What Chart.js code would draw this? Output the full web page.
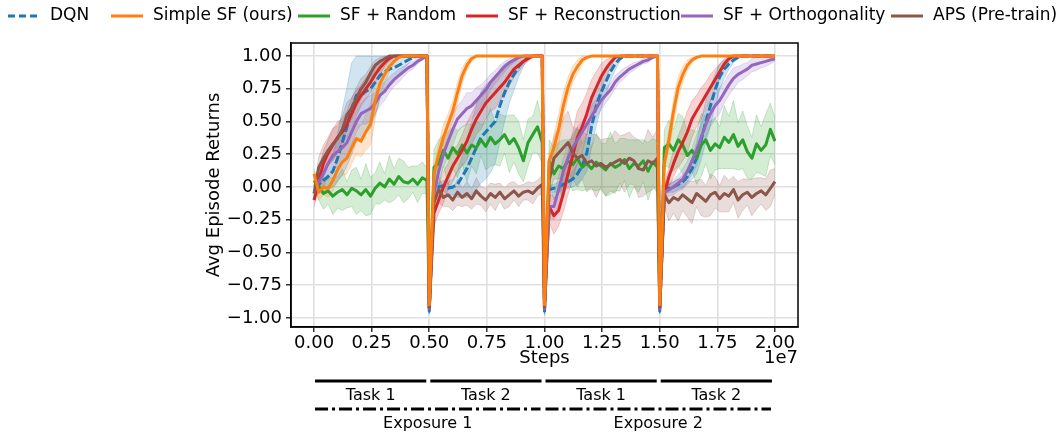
<!DOCTYPE html>
<html>
<head>
<meta charset="utf-8">
<script src="https://cdn.jsdelivr.net/npm/chart.js@4.4.0/dist/chart.umd.min.js"></script>
<style>
  html, body { margin: 0; padding: 0; background: #fff; }
  #wrap { position: relative; width: 1063px; height: 439px; }
</style>
</head>
<body>
<div id="wrap"><canvas id="returns" width="1063" height="439"></canvas></div>
<script>
const FONT = "'DejaVu Sans', sans-serif";

// four phases of 5e6 env steps; 25 evals per phase (last phase also logs the final step)
const phaseEdges = [0, 5e6, 1e7, 1.5e7, 2e7];
const steps = [];
for (let p = 0; p < 4; p++) {
  const n = p < 3 ? 25 : 26;
  const span = p < 3 ? 4.9e6 : 5e6;
  for (let k = 0; k < n; k++) steps.push(phaseEdges[p] + k * span / (p < 3 ? 24 : 25));
}
const xTicks = [0, 2.5e6, 5e6, 7.5e6, 1e7, 1.25e7, 1.5e7, 1.75e7, 2e7];
const yTicks = [-1, -0.75, -0.5, -0.25, 0, 0.25, 0.5, 0.75, 1];
const taskLabels = ['Task 1', 'Task 2', 'Task 1', 'Task 2'];
const exposureLabels = ['Exposure 1', 'Exposure 2'];

// mean returns (one row per phase)
const dqnMean = [
  0.00, 0.02, 0.05, 0.08, 0.12, 0.22, 0.34, 0.46, 0.60, 0.70, 0.70, 0.73, 0.75, 0.80, 0.85, 0.88, 0.90, 0.91, 0.93, 0.95, 0.97, 0.99, 1.00, 1.00, 1.00,
  -0.95, 0.00, 0.00, 0.01, -0.01, 0.00, 0.02, 0.08, 0.14, 0.22, 0.30, 0.38, 0.42, 0.46, 0.50, 0.62, 0.72, 0.80, 0.86, 0.92, 0.96, 0.99, 1.00, 1.00, 1.00,
  -0.96, -0.02, -0.01, 0.00, 0.02, 0.04, 0.06, 0.10, 0.16, 0.26, 0.46, 0.62, 0.72, 0.80, 0.88, 0.94, 0.98, 1.00, 1.00, 1.00, 1.00, 1.00, 1.00, 1.00, 1.00,
  -0.95, -0.02, -0.01, 0.00, 0.02, 0.04, 0.08, 0.14, 0.22, 0.36, 0.50, 0.62, 0.74, 0.84, 0.90, 0.94, 0.97, 0.99, 1.00, 1.00, 1.00, 1.00, 1.00, 1.00, 1.00, 1.00
];
const sfMean = [
  0.10, -0.04, 0.00, -0.01, 0.05, 0.13, 0.19, 0.22, 0.30, 0.37, 0.35, 0.42, 0.48, 0.66, 0.79, 0.86, 0.92, 0.96, 0.99, 1.00, 1.00, 1.00, 1.00, 1.00, 1.00,
  -0.90, 0.10, 0.25, 0.38, 0.48, 0.58, 0.72, 0.85, 0.93, 0.98, 1.00, 1.00, 1.00, 1.00, 1.00, 1.00, 1.00, 1.00, 1.00, 1.00, 1.00, 1.00, 1.00, 1.00, 1.00,
  -0.90, 0.20, 0.30, 0.44, 0.62, 0.76, 0.86, 0.92, 0.97, 0.99, 1.00, 1.00, 1.00, 1.00, 1.00, 1.00, 1.00, 1.00, 1.00, 1.00, 1.00, 1.00, 1.00, 1.00, 1.00,
  -0.90, 0.18, 0.36, 0.58, 0.76, 0.86, 0.93, 0.97, 0.99, 1.00, 1.00, 1.00, 1.00, 1.00, 1.00, 1.00, 1.00, 1.00, 1.00, 1.00, 1.00, 1.00, 1.00, 1.00, 1.00, 1.00
];
const randMean = [
  0.05, 0.00, -0.05, -0.03, -0.07, -0.04, -0.02, -0.06, -0.01, -0.03, -0.06, -0.02, -0.07, -0.01, 0.03, 0.00, 0.06, 0.02, 0.08, 0.04, 0.03, 0.06, 0.02, 0.07, 0.05,
  -0.92, 0.15, 0.18, 0.28, 0.22, 0.30, 0.25, 0.32, 0.26, 0.32, 0.30, 0.36, 0.31, 0.38, 0.33, 0.36, 0.40, 0.33, 0.37, 0.30, 0.20, 0.34, 0.40, 0.46, 0.34,
  -0.92, 0.20, 0.10, 0.16, 0.14, 0.20, 0.17, 0.22, 0.15, 0.18, 0.14, 0.19, 0.16, 0.13, 0.18, 0.15, 0.17, 0.21, 0.14, 0.18, 0.16, 0.20, 0.12, 0.19, 0.15,
  -0.92, 0.30, 0.33, 0.28, 0.36, 0.32, 0.24, 0.28, 0.22, 0.32, 0.36, 0.28, 0.33, 0.30, 0.38, 0.34, 0.40, 0.31, 0.36, 0.27, 0.22, 0.33, 0.28, 0.32, 0.44, 0.35
];
const reconMean = [
  -0.10, 0.05, 0.18, 0.26, 0.32, 0.38, 0.42, 0.48, 0.56, 0.64, 0.70, 0.75, 0.80, 0.86, 0.91, 0.95, 0.98, 1.00, 1.00, 1.00, 1.00, 1.00, 1.00, 1.00, 1.00,
  -0.93, -0.20, -0.10, 0.00, 0.08, 0.16, 0.22, 0.28, 0.35, 0.44, 0.52, 0.58, 0.64, 0.68, 0.72, 0.76, 0.80, 0.85, 0.90, 0.93, 0.96, 0.98, 1.00, 1.00, 1.00,
  -0.93, -0.15, -0.22, -0.18, -0.05, 0.10, 0.24, 0.38, 0.46, 0.56, 0.68, 0.76, 0.84, 0.90, 0.95, 0.99, 1.00, 1.00, 1.00, 1.00, 1.00, 1.00, 1.00, 1.00, 1.00,
  -0.93, -0.05, 0.08, 0.18, 0.27, 0.34, 0.42, 0.52, 0.58, 0.64, 0.70, 0.76, 0.82, 0.88, 0.94, 0.98, 1.00, 1.00, 1.00, 1.00, 1.00, 1.00, 1.00, 1.00, 1.00, 1.00
];
const orthoMean = [
  -0.05, 0.04, 0.10, 0.18, 0.24, 0.27, 0.30, 0.34, 0.42, 0.50, 0.56, 0.58, 0.60, 0.64, 0.70, 0.73, 0.78, 0.82, 0.85, 0.88, 0.91, 0.93, 0.96, 0.98, 1.00,
  -0.93, -0.05, 0.12, 0.25, 0.35, 0.44, 0.52, 0.56, 0.60, 0.62, 0.66, 0.70, 0.74, 0.80, 0.84, 0.88, 0.92, 0.95, 0.97, 0.99, 1.00, 1.00, 1.00, 1.00, 1.00,
  -0.93, -0.15, -0.15, -0.02, 0.12, 0.22, 0.30, 0.36, 0.42, 0.48, 0.54, 0.60, 0.66, 0.70, 0.74, 0.80, 0.84, 0.87, 0.90, 0.92, 0.94, 0.96, 0.97, 0.99, 1.00,
  -0.93, -0.04, -0.02, 0.00, 0.03, 0.06, 0.12, 0.20, 0.28, 0.38, 0.48, 0.56, 0.62, 0.66, 0.72, 0.78, 0.83, 0.86, 0.88, 0.90, 0.93, 0.94, 0.95, 0.96, 0.97, 0.98
];
const apsMean = [
  -0.05, 0.15, 0.22, 0.28, 0.33, 0.37, 0.44, 0.55, 0.60, 0.68, 0.75, 0.80, 0.87, 0.93, 0.96, 0.98, 1.00, 1.00, 1.00, 1.00, 1.00, 1.00, 1.00, 1.00, 1.00,
  -0.92, -0.12, -0.02, -0.08, -0.06, -0.10, -0.04, -0.08, -0.05, -0.09, -0.03, -0.07, -0.10, -0.05, -0.08, -0.04, -0.09, -0.06, -0.03, -0.07, -0.04, -0.03, -0.05, -0.01, 0.02,
  -0.92, 0.05, 0.22, 0.26, 0.30, 0.34, 0.26, 0.22, 0.24, 0.18, 0.20, 0.16, 0.18, 0.15, 0.17, 0.19, 0.21, 0.18, 0.22, 0.20, 0.14, 0.13, 0.20, 0.18, 0.22,
  -0.92, -0.06, -0.12, -0.08, -0.10, -0.06, -0.09, -0.12, -0.05, -0.08, -0.11, -0.06, -0.04, -0.09, -0.05, -0.07, -0.02, -0.10, -0.06, -0.04, -0.08, -0.05, -0.03, -0.06, -0.01, 0.04
];

// std across seeds, same layout
const dqnSpread = [
  0.02, 0.05, 0.08, 0.10, 0.12, 0.18, 0.25, 0.30, 0.35, 0.35, 0.33, 0.32, 0.30, 0.25, 0.18, 0.12, 0.10, 0.09, 0.07, 0.05, 0.03, 0.01, 0, 0, 0,
  0.02, 0.03, 0.03, 0.04, 0.05, 0.06, 0.10, 0.16, 0.22, 0.28, 0.32, 0.35, 0.36, 0.35, 0.32, 0.28, 0.22, 0.16, 0.12, 0.08, 0.04, 0.01, 0, 0, 0,
  0.02, 0.03, 0.03, 0.04, 0.04, 0.05, 0.06, 0.08, 0.10, 0.14, 0.16, 0.15, 0.12, 0.10, 0.07, 0.05, 0.02, 0, 0, 0, 0, 0, 0, 0, 0,
  0.02, 0.03, 0.03, 0.04, 0.04, 0.05, 0.06, 0.08, 0.12, 0.15, 0.16, 0.15, 0.12, 0.10, 0.07, 0.04, 0.02, 0.01, 0, 0, 0, 0, 0, 0, 0, 0
];
const sfSpread = [
  0.04, 0.06, 0.06, 0.07, 0.08, 0.08, 0.10, 0.12, 0.12, 0.12, 0.12, 0.14, 0.16, 0.14, 0.10, 0.07, 0.04, 0.02, 0.01, 0, 0, 0, 0, 0, 0,
  0.02, 0.06, 0.08, 0.10, 0.08, 0.08, 0.08, 0.06, 0.04, 0.02, 0, 0, 0, 0, 0, 0, 0, 0, 0, 0, 0, 0, 0, 0, 0,
  0.02, 0.06, 0.10, 0.12, 0.10, 0.08, 0.06, 0.05, 0.03, 0.01, 0, 0, 0, 0, 0, 0, 0, 0, 0, 0, 0, 0, 0, 0, 0,
  0.02, 0.06, 0.08, 0.10, 0.08, 0.06, 0.04, 0.02, 0.01, 0, 0, 0, 0, 0, 0, 0, 0, 0, 0, 0, 0, 0, 0, 0, 0, 0
];
const randSpread = [
  0.06, 0.10, 0.12, 0.10, 0.14, 0.12, 0.16, 0.10, 0.14, 0.18, 0.12, 0.20, 0.14, 0.12, 0.16, 0.10, 0.18, 0.12, 0.14, 0.16, 0.12, 0.10, 0.14, 0.12, 0.10,
  0.05, 0.14, 0.18, 0.12, 0.20, 0.16, 0.18, 0.14, 0.22, 0.16, 0.20, 0.12, 0.18, 0.22, 0.16, 0.20, 0.14, 0.22, 0.18, 0.20, 0.16, 0.18, 0.14, 0.20, 0.16,
  0.05, 0.16, 0.20, 0.18, 0.22, 0.16, 0.20, 0.24, 0.18, 0.20, 0.16, 0.22, 0.18, 0.20, 0.24, 0.18, 0.20, 0.16, 0.22, 0.18, 0.20, 0.16, 0.22, 0.18, 0.20,
  0.05, 0.14, 0.18, 0.16, 0.20, 0.22, 0.18, 0.16, 0.20, 0.24, 0.18, 0.22, 0.20, 0.16, 0.24, 0.20, 0.26, 0.18, 0.22, 0.20, 0.16, 0.22, 0.18, 0.24, 0.20, 0.18
];
const reconSpread = [
  0.05, 0.08, 0.10, 0.10, 0.12, 0.12, 0.10, 0.10, 0.12, 0.10, 0.08, 0.08, 0.08, 0.06, 0.05, 0.03, 0.02, 0, 0, 0, 0, 0, 0, 0, 0,
  0.03, 0.10, 0.10, 0.12, 0.10, 0.12, 0.10, 0.12, 0.14, 0.12, 0.12, 0.14, 0.12, 0.10, 0.12, 0.10, 0.10, 0.08, 0.06, 0.05, 0.03, 0.02, 0, 0, 0,
  0.03, 0.12, 0.14, 0.12, 0.14, 0.16, 0.18, 0.20, 0.18, 0.16, 0.14, 0.12, 0.10, 0.07, 0.04, 0.01, 0, 0, 0, 0, 0, 0, 0, 0, 0,
  0.03, 0.06, 0.08, 0.10, 0.12, 0.14, 0.16, 0.14, 0.12, 0.12, 0.10, 0.10, 0.08, 0.06, 0.04, 0.02, 0, 0, 0, 0, 0, 0, 0, 0, 0, 0
];
const orthoSpread = [
  0.05, 0.08, 0.10, 0.10, 0.10, 0.12, 0.12, 0.10, 0.10, 0.08, 0.08, 0.10, 0.10, 0.08, 0.08, 0.07, 0.06, 0.05, 0.05, 0.04, 0.03, 0.03, 0.02, 0.01, 0,
  0.03, 0.08, 0.10, 0.10, 0.12, 0.12, 0.10, 0.10, 0.12, 0.10, 0.10, 0.08, 0.08, 0.06, 0.05, 0.05, 0.04, 0.03, 0.02, 0.01, 0, 0, 0, 0, 0,
  0.03, 0.08, 0.10, 0.10, 0.10, 0.12, 0.10, 0.10, 0.08, 0.08, 0.08, 0.07, 0.07, 0.06, 0.05, 0.05, 0.04, 0.04, 0.03, 0.03, 0.02, 0.02, 0.02, 0.01, 0,
  0.03, 0.04, 0.05, 0.06, 0.06, 0.08, 0.08, 0.10, 0.12, 0.10, 0.10, 0.10, 0.10, 0.10, 0.08, 0.08, 0.08, 0.06, 0.06, 0.05, 0.05, 0.05, 0.04, 0.04, 0.03, 0.02
];
const apsSpread = [
  0.04, 0.08, 0.10, 0.10, 0.12, 0.10, 0.10, 0.10, 0.08, 0.08, 0.08, 0.06, 0.05, 0.04, 0.03, 0.02, 0, 0, 0, 0, 0, 0, 0, 0, 0,
  0.03, 0.08, 0.10, 0.07, 0.09, 0.08, 0.10, 0.07, 0.09, 0.08, 0.10, 0.07, 0.09, 0.08, 0.10, 0.07, 0.08, 0.09, 0.07, 0.08, 0.06, 0.07, 0.08, 0.06, 0.07,
  0.03, 0.10, 0.16, 0.20, 0.22, 0.24, 0.20, 0.22, 0.18, 0.22, 0.20, 0.24, 0.18, 0.22, 0.20, 0.24, 0.18, 0.22, 0.20, 0.18, 0.22, 0.20, 0.24, 0.20, 0.22,
  0.03, 0.10, 0.14, 0.12, 0.16, 0.12, 0.14, 0.16, 0.10, 0.14, 0.12, 0.16, 0.12, 0.10, 0.14, 0.12, 0.10, 0.14, 0.12, 0.10, 0.14, 0.12, 0.10, 0.12, 0.14, 0.10
];

// lower order = drawn on top
const runs = [
  { label: 'DQN', color: '#1f77b4', mean: dqnMean, spread: dqnSpread, dash: [8, 3], order: 5 },
  { label: 'Simple SF (ours)', color: '#ff7f0e', mean: sfMean, spread: sfSpread, order: 0 },
  { label: 'SF + Random', color: '#2ca02c', mean: randMean, spread: randSpread, order: 4 },
  { label: 'SF + Reconstruction', color: '#d62728', mean: reconMean, spread: reconSpread, order: 3 },
  { label: 'SF + Orthogonality', color: '#9467bd', mean: orthoMean, spread: orthoSpread, order: 2 },
  { label: 'APS (Pre-train)', color: '#8c564b', mean: apsMean, spread: apsSpread, order: 1 }
];

function rgba(hex, a) {
  const n = parseInt(hex.slice(1), 16);
  return `rgba(${n >> 16}, ${(n >> 8) & 255}, ${n & 255}, ${a})`;
}

const datasets = [];
runs.forEach(r => {
  datasets.push({
    label: r.label,
    data: steps.map((x, i) => ({ x, y: r.mean[i] })),
    borderColor: r.color,
    borderWidth: 3,
    borderDash: r.dash || [],
    borderJoinStyle: 'round',
    pointRadius: 0,
    fill: false,
    order: r.order
  });
});
runs.forEach((r, k) => {
  const edge = rgba(r.color, 0.22);
  datasets.push({
    data: steps.map((x, i) => ({ x, y: Math.min(1, r.mean[i] + r.spread[i]) })),
    borderColor: edge, borderWidth: 1, backgroundColor: rgba(r.color, 0.2),
    pointRadius: 0, fill: '+1', order: 20 + k
  });
  datasets.push({
    data: steps.map((x, i) => ({ x, y: r.mean[i] - r.spread[i] })),
    borderColor: edge, borderWidth: 1,
    pointRadius: 0, fill: false, order: 20 + k
  });
});

const decorations = {
  id: 'decorations',
  afterDraw(chart) {
    const { ctx, chartArea: a, scales: { x } } = chart;
    ctx.save();
    ctx.strokeStyle = '#000';
    ctx.lineWidth = 1.5;
    ctx.strokeRect(a.left, a.top, a.right - a.left, a.bottom - a.top);

    ctx.fillStyle = '#000';
    ctx.font = `18px ${FONT}`;
    ctx.textBaseline = 'middle';
    ctx.textAlign = 'right';
    ctx.fillText('1e7', a.right, 358);

    // legend row
    const legendX = [8, 111, 298, 466, 681, 891];
    ctx.font = `17px ${FONT}`;
    ctx.textAlign = 'left';
    runs.forEach((r, k) => {
      const x0 = legendX[k];
      ctx.strokeStyle = r.color;
      ctx.lineWidth = 3;
      ctx.setLineDash(r.dash ? [7, 4] : []);
      ctx.beginPath();
      ctx.moveTo(x0, 16);
      ctx.lineTo(x0 + 32, 16);
      ctx.stroke();
      ctx.setLineDash([]);
      ctx.fillText(r.label, x0 + 42, 16);
    });

    // task / exposure brackets under the axis
    ctx.strokeStyle = '#000';
    ctx.lineWidth = 3;
    ctx.font = `16px ${FONT}`;
    ctx.textAlign = 'center';
    for (let k = 0; k < 4; k++) {
      const l = x.getPixelForValue(phaseEdges[k]) + 1;
      const r = x.getPixelForValue(phaseEdges[k + 1]) - 3;
      ctx.beginPath();
      ctx.moveTo(l, 381);
      ctx.lineTo(r, 381);
      ctx.stroke();
      ctx.fillText(taskLabels[k], (l + r) / 2, 396);
    }
    ctx.setLineDash([13, 4, 3, 4]);
    for (let k = 0; k < 2; k++) {
      const l = x.getPixelForValue(phaseEdges[2 * k]) + 1;
      const r = x.getPixelForValue(phaseEdges[2 * k + 2]) - 4;
      ctx.beginPath();
      ctx.moveTo(l, 409);
      ctx.lineTo(r, 409);
      ctx.stroke();
      ctx.fillText(exposureLabels[k], (l + r) / 2, 424);
    }
    ctx.restore();
  }
};

const tickFont = { family: FONT, size: 18 };
const gridStyle = { color: '#e0e0e0', lineWidth: 1.6, tickColor: '#000', tickLength: 5, tickWidth: 1.2 };

new Chart(document.getElementById('returns'), {
  type: 'line',
  data: { datasets },
  options: {
    responsive: false,
    animation: false,
    events: [],
    layout: { padding: { left: 204, right: 265, top: 43, bottom: 70 } },
    plugins: { legend: { display: false }, tooltip: { enabled: false } },
    scales: {
      x: {
        type: 'linear', min: -1e6, max: 2.1e7,
        afterBuildTicks: s => { s.ticks = xTicks.map(v => ({ value: v })); },
        afterFit: s => { s.height = 42; },
        ticks: { font: tickFont, color: '#000', padding: 1, maxRotation: 0, autoSkip: false,
                 callback: v => (v / 1e7).toFixed(2) },
        grid: gridStyle,
        border: { color: '#000', width: 1.5 },
        title: { display: true, text: 'Steps', font: tickFont, color: '#000', padding: 0 }
      },
      y: {
        min: -1.07, max: 1.1,
        afterBuildTicks: s => { s.ticks = yTicks.map(v => ({ value: v })); },
        afterFit: s => { s.width = 87; },
        ticks: { font: tickFont, color: '#000', padding: 4, autoSkip: false,
                 callback: v => (v < 0 ? '\u2212' : '') + Math.abs(v).toFixed(2) },
        grid: gridStyle,
        border: { color: '#000', width: 1.5 },
        title: { display: true, text: 'Avg Episode Returns', font: tickFont, color: '#000', padding: 0 }
      }
    }
  },
  plugins: [decorations]
});
</script>
</body>
</html>
